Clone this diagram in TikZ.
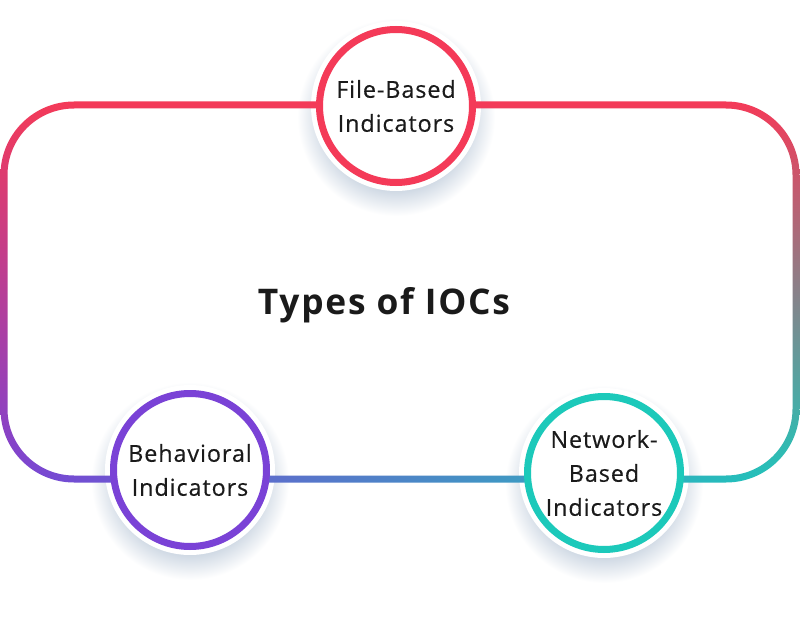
\documentclass[tikz,border=0pt]{standalone}
\usepackage{fontspec}
\usetikzlibrary{shadings}
\setmainfont{Open Sans}[LetterSpace=4, FakeBold=0.4]
\newfontfamily\titlefont{Open Sans}[LetterSpace=5]
\definecolor{ired}{HTML}{F43A58}
\definecolor{ipurple}{HTML}{7A42D6}
\definecolor{iteal}{HTML}{1CC9BA}
\definecolor{ishadow}{HTML}{C3CFDD}
\definecolor{itext}{HTML}{1A1A1A}
\pgfdeclareradialshading{softshadow}{\pgfpoint{0bp}{0bp}}{color(0bp)=(ishadow); color(17bp)=(ishadow); color(25bp)=(white); color(50bp)=(white)}
\begin{document}
\begin{tikzpicture}[x=0.75pt,y=-0.75pt,
  halo/.style={shading=softshadow, draw=none},
  ring/.style={circle, draw=#1, fill=white, line width=5.25pt, minimum size=114.75pt, inner sep=0pt,
    align=center, text=itext, font={\fontsize{17.5}{25.5}\selectfont}},
  titletext/.style={text=itext, font={\titlefont\bfseries\fontsize{26.5}{30}\selectfont}}]
\useasboundingbox (0,0) rectangle (800,635);
\fill[white] (0,0) rectangle (800,635);
% soft shadows and white halos
\foreach \cx/\cy in {396/106, 190/470, 604/473}{
  \shade[halo] (\cx,\cy+11) circle[radius=99];
  \fill[white] (\cx,\cy) circle[radius=85];
}
% gradient frame
\shade[even odd rule, upper left=ired, upper right=ired, lower left=ipurple, lower right=iteal]
  [rounded corners=55.1pt] (0.5,101.5) rectangle (799.5,482.5)
  [rounded corners=49.9pt] (7.5,108.5) rectangle (792.5,475.5);
% nodes
\node[ring=ired] (file) at (396,106) {File-Based\\Indicators};
\node[ring=ipurple] (behav) at (190,470) {Behavioral\\Indicators};
\node[ring=iteal] (net) at (604,473) {Network-\\Based\\Indicators};
\node[titletext] (title) at (384,305) {Types of IOCs};
\end{tikzpicture}
\end{document}
